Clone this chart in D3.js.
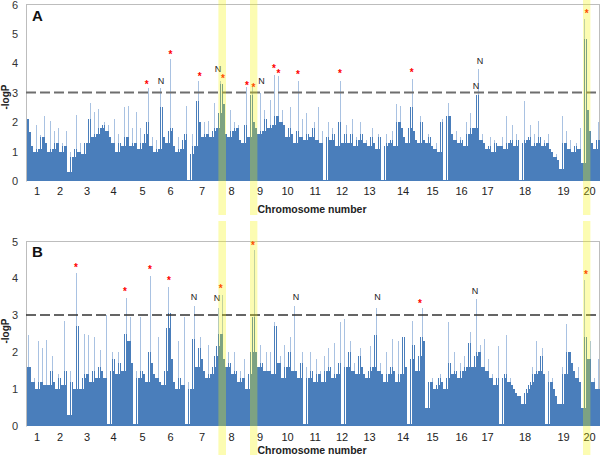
<!DOCTYPE html>
<html><head><meta charset="utf-8">
<script src="https://cdn.jsdelivr.net/npm/d3@7"></script>
<style>
body{margin:0;background:#fff}
svg{display:block;font-family:"Liberation Sans",Arial,sans-serif}
</style>
</head><body>
<svg id="c" width="600" height="455"></svg>
<script>
// -logP values per marker bin (panel A)
const valuesA = [
2.5,2.1,1.65,1.2,1.0,1.9,1.1,1.55,1.5,2.2,
1.3,1.0,2.05,1.1,1.7,1.3,1.8,1.0,1.3,1.2,
1.7,0.3,1.0,0.8,1.1,2.25,1.0,1.3,0.9,1.3,
1.3,2.1,2.65,1.5,2.35,1.6,2.45,1.8,1.9,2.0,
1.7,1.9,1.5,1.3,2.1,1.0,1.6,1.3,1.2,2.5,
1.5,2.55,1.2,1.8,1.3,2.35,1.1,1.8,1.3,1.6,
2.0,3.15,1.2,1.5,1.0,1.4,1.1,3.15,2.5,1.5,
1.3,1.7,4.15,1.8,1.2,1.0,1.5,1.1,1.4,1.6,
2.55,0.05,0.9,1.6,1.2,2.7,3.4,
2.0,1.5,2.0,1.6,2.05,1.5,1.7,2.64,1.8,2.3,3.4,3.3,2.6,
1.6,1.5,2.4,1.7,2.0,1.8,1.9,1.4,1.3,1.9,
3.2,1.5,2.9,3.2,2.0,1.8,1.6,3.0,1.7,2.4,
2.1,1.8,2.75,1.9,3.6,2.2,3.55,2.0,2.4,1.9,
1.5,1.8,2.5,1.6,1.3,1.7,3.4,1.5,2.1,1.4,
2.3,1.6,1.5,1.8,2.0,1.4,2.5,1.3,1.7,0.05,
1.5,2.0,1.4,1.8,1.6,1.2,2.0,3.4,1.3,1.6,
1.9,1.3,1.6,2.1,1.2,1.5,1.4,2.0,1.6,1.3,
1.4,1.2,1.5,1.8,1.3,1.1,1.6,1.5,0.05,1.2,
1.6,1.3,1.4,1.7,1.2,2.6,2.0,
2.55,1.8,1.5,1.3,1.8,2.5,3.45,1.7,1.4,1.3,
2.2,2.0,1.4,1.3,1.6,1.5,1.2,1.1,1.3,1.0,
2.0,2.1,0.05,2.2,2.63,2.2,1.6,1.4,1.7,1.3,
1.5,1.4,1.2,2.0,1.6,2.3,1.8,1.8,2.9,3.78,
1.4,1.6,1.3,1.1,1.2,1.5,1.0,1.4,1.3,1.2,
1.2,1.5,1.1,2.2,1.3,1.4,1.9,1.2,1.6,1.4,
0.05,1.3,2.7,1.4,1.5,1.9,1.2,1.6,1.3,2.05,
1.5,1.2,1.4,1.3,1.6,1.1,1.0,0.8,0.9,0.7,
0.4,2.2,1.3,1.7,1.1,1.4,1.0,1.2,1.3,1.1,
1.8,0.6,5.5,4.8,2.4,1.7,1.3,1.1,1.4,2.0
];
// -logP values per marker bin (panel B)
const valuesB = [
1.6,2.45,1.6,1.2,1.3,1.0,2.3,1.2,2.1,1.1,
2.32,1.1,1.5,1.9,1.2,1.0,1.4,1.3,1.1,2.85,
1.5,0.3,1.5,1.2,1.0,4.13,2.7,1.0,1.3,2.5,
1.4,2.45,1.2,1.5,2.4,1.3,1.6,2.05,1.5,1.3,
3.0,0.05,1.5,2.0,1.8,1.4,2.0,1.7,1.5,2.5,
3.47,2.3,2.95,1.7,0.05,1.5,1.3,2.95,1.5,1.4,
1.2,2.0,4.05,1.7,1.4,1.3,2.4,1.2,1.1,1.5,
2.65,3.76,3.05,1.8,1.2,1.0,2.3,1.3,1.1,2.95,
0.05,1.2,1.0,2.35,3.25,1.6,2.1,
2.4,1.8,1.5,1.3,2.2,1.4,1.6,1.9,2.15,3.2,2.5,3.55,1.8,
1.6,2.0,1.7,1.4,2.0,1.5,1.2,1.5,1.3,1.8,
1.0,1.4,2.0,2.95,4.76,2.0,1.6,2.2,1.7,1.5,
2.0,1.5,2.0,1.4,2.8,2.7,1.7,1.9,1.3,2.2,
1.6,2.0,2.4,1.5,3.25,1.5,1.3,1.7,2.0,0.05,
1.6,1.3,2.0,1.5,1.2,1.8,1.4,1.5,1.2,1.9,
1.5,2.1,1.6,1.3,2.25,1.4,1.7,2.8,0.05,2.9,
1.6,2.0,2.3,1.5,1.7,1.4,1.9,2.1,1.6,1.4,
1.3,1.5,2.15,1.6,2.45,3.2,1.5,1.7,1.4,1.2,
2.0,1.4,1.6,2.35,1.5,1.2,2.3,
1.4,2.4,2.4,1.6,0.05,1.8,2.85,2.2,1.5,1.9,
2.4,3.18,2.3,0.5,1.2,1.2,1.3,1.0,1.1,1.3,
1.4,1.2,1.0,1.3,2.8,1.7,1.4,2.0,1.5,1.3,
1.7,1.5,1.9,1.6,2.25,2.55,1.6,1.9,3.43,2.0,
2.2,1.6,2.35,1.5,1.8,1.3,1.4,1.1,1.3,2.15,
0.05,1.3,1.4,2.45,1.2,1.3,1.1,1.0,0.9,0.8,
0.8,0.6,0.9,1.0,1.1,1.2,1.6,1.4,2.3,1.5,
1.9,2.1,1.4,0.05,1.5,1.2,1.3,1.0,0.8,0.6,
0.6,1.6,1.4,2.75,2.0,2.0,1.7,1.5,1.3,1.6,
1.2,0.5,3.95,2.4,1.8,2.3,1.2,1.3,1.0,1.8
];
const chromLabels = ["1","2","3","4","5","6","7","8","9","10","11","12","13","14","15","16","17","18","19","20"];
const chromPos = [5.3,16.8,30.3,43.5,58,72,87.8,102.5,116.8,130.5,144.3,157.8,171.5,188.3,203,217.5,230.5,249.3,268.5,281.5];
const threshold = 3;
const yTicksA = [0,1,2,3,4,5,6];
const yTicksB = [0,1,2,3,4,5];
const starBinsA = [60.3,72.2,86.8,98.5,110.5,113.7,124,126.2,136,157,192.9,280.3];
const starValsA = [3.32,4.35,3.59,3.52,3.29,3.22,3.86,3.69,3.66,3.69,3.73,5.73];
const nBinsA = [67.5,96.0,117.8,225,227];
const nValsA = [3.42,3.8,3.42,3.22,4.07];
const starBinsB = [25,49.5,62,71.5,97.3,113.5,197,280];
const starValsB = [4.32,3.68,4.27,3.97,3.76,4.92,3.35,4.14];
const nBinsB = [84,95.5,135,175.8,224.5];
const nValsB = [3.51,3.46,3.51,3.49,3.65];
const bandStart = [96.2,112,278.5];
const bandEnd = [100,115.7,282.2];

const svg = d3.select("#c");
const nBins = valuesA.length;
const x = d3.scaleLinear().domain([0, nBins]).range([26, 600]);

const panels = [
  {values: valuesA, yMax: 6, ticks: yTicksA, top: 4, bottom: 181, sb: starBinsA, sv: starValsA, nb: nBinsA, nv: nValsA,
   letter: "A", letterY: 21, bandTop: 0, bandBottom: 215, labelY: 195, titleY: 213, yTitleY: 97, dash: "#6e6e6e", dashW: 2},
  {values: valuesB, yMax: 5, ticks: yTicksB, top: 241, bottom: 426, sb: starBinsB, sv: starValsB, nb: nBinsB, nv: nValsB,
   letter: "B", letterY: 257, bandTop: 221, bandBottom: 455, labelY: 441, titleY: 454, yTitleY: 331, dash: "#333", dashW: 1.6}
];

const dark = "#4a7ebb", light = "#a9c2e2";

panels.forEach(p => {
  const y = d3.scaleLinear().domain([0, p.yMax]).range([p.bottom, p.top]);
  const g = svg.append("g");
  // frame
  g.append("line").attr("x1", 26).attr("x2", 599).attr("y1", p.top + 0.5).attr("y2", p.top + 0.5).attr("stroke", "#bdbdbd");
  g.append("line").attr("x1", 599.5).attr("x2", 599.5).attr("y1", p.top).attr("y2", p.bottom).attr("stroke", "#bdbdbd");
  const v = p.values;
  const lo = (i) => Math.min(v[i], v[i - 1] ?? v[i], v[i + 1] ?? v[i]);
  const mid = (i) => Math.min(v[i], Math.max(v[i - 1] ?? 0, v[i + 1] ?? 0));
  const bars = g.append("g").attr("shape-rendering", "crispEdges");
  // base fill (2px wide)
  bars.selectAll("rect.base").data(v).join("rect").attr("class", "base")
    .attr("x", (d, i) => x(i)).attr("width", (d, i) => x(i + 1) - x(i))
    .attr("y", (d, i) => y(lo(i))).attr("height", (d, i) => p.bottom - y(lo(i)))
    .attr("fill", dark);
  // thin spike, light tip
  bars.selectAll("rect.tip").data(v).join("rect").attr("class", "tip")
    .attr("x", (d, i) => x(i)).attr("width", 1)
    .attr("y", d => y(d)).attr("height", d => p.bottom - y(d))
    .attr("fill", light);
  // thin spike, dark body
  bars.selectAll("rect.body").data(v).join("rect").attr("class", "body")
    .attr("x", (d, i) => x(i)).attr("width", 1)
    .attr("y", (d, i) => y(mid(i))).attr("height", (d, i) => p.bottom - y(mid(i)))
    .attr("fill", dark);
  // y axis
  const ya = g.append("g").attr("transform", "translate(26,0)")
    .call(d3.axisLeft(y).tickValues(p.ticks).tickSize(0).tickPadding(8).tickFormat(d3.format("d")));
  ya.select(".domain").attr("stroke", "#bdbdbd");
  ya.selectAll("text").attr("font-size", 11).attr("fill", "#333").attr("font-family", "Liberation Sans, Arial, sans-serif");
  ya.selectAll(".tick").filter(d => d === p.yMax).select("text").attr("dy", "0.45em");
  // x axis labels
  const xa = g.append("g").attr("transform", `translate(0,${p.bottom})`)
    .call(d3.axisBottom(x).tickValues(chromPos).tickSize(0).tickPadding(0).tickFormat((d, i) => chromLabels[i]));
  xa.select(".domain").remove();
  xa.selectAll("text").attr("font-size", 11).attr("fill", "#222").attr("dy", null)
    .attr("y", p.labelY - p.bottom).attr("font-family", "Liberation Sans, Arial, sans-serif");
  // threshold
  g.append("line").attr("x1", 26).attr("x2", 599).attr("y1", y(threshold)).attr("y2", y(threshold))
    .attr("stroke", p.dash).attr("stroke-width", p.dashW).attr("stroke-dasharray", "10,4");
  // stars
  g.append("g").selectAll("text").data(p.sb).join("text")
    .attr("x", d => x(d)).attr("y", (d, i) => y(p.sv[i]) + 5.2)
    .attr("text-anchor", "middle").attr("font-size", 10).attr("font-weight", "bold").attr("fill", "#ff0000").text("*");
  // N labels
  g.append("g").selectAll("text").data(p.nb).join("text")
    .attr("x", d => x(d)).attr("y", (d, i) => y(p.nv[i]) + 3.4)
    .attr("text-anchor", "middle").attr("font-size", 9).attr("fill", "#222").text("N");
  // highlight bands
  g.append("g").selectAll("rect").data(bandStart).join("rect")
    .attr("x", d => x(d)).attr("width", (d, i) => x(bandEnd[i]) - x(d))
    .attr("y", p.bandTop).attr("height", p.bandBottom - p.bandTop)
    .attr("fill", "#f4f400").attr("opacity", 0.3);
  // titles
  g.append("text").attr("x", 32).attr("y", p.letterY).attr("font-size", 15).attr("font-weight", "bold").attr("fill", "#111").text(p.letter);
  g.append("text").attr("transform", `translate(9,${p.yTitleY}) rotate(-90)`).attr("text-anchor", "middle")
    .attr("font-size", 10).attr("font-weight", "bold").attr("fill", "#222").text("-logP");
  g.append("text").attr("x", 312).attr("y", p.titleY).attr("text-anchor", "middle")
    .attr("font-size", 10.5).attr("font-weight", "bold").attr("fill", "#222").text("Chromosome number");
});
</script>
</body></html>
